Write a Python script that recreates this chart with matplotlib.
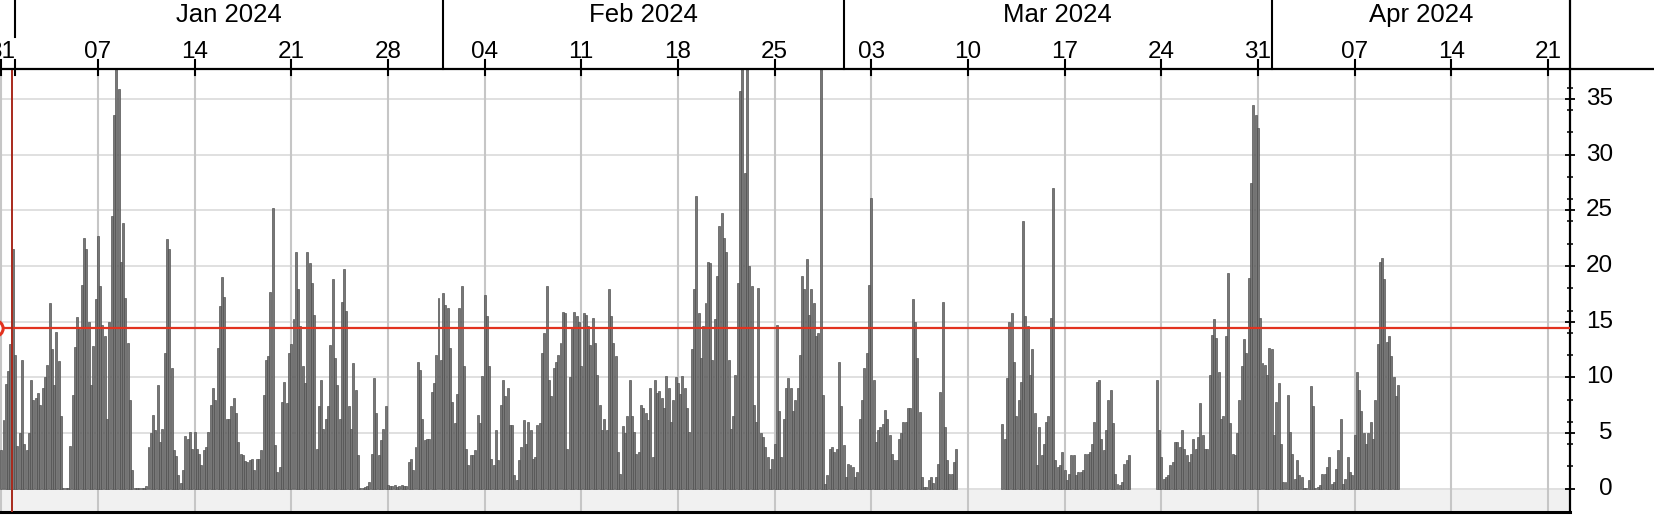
import numpy as np
import matplotlib
matplotlib.use("Agg")
import matplotlib.pyplot as plt
import matplotlib.dates as mdates
from matplotlib.lines import Line2D
import matplotlib.transforms as mtransforms

nan = float("nan")

# ---------------- data (4-hourly values, one list per week starting Sunday) ----
series_start = "2023-12-31T00:00"
step_hours = 4

w00 = [3.5, 6.2, 9.4, 10.6, 13, 21.5, 12, 3.8, 5, 11.6, 4, 3.5, 5, 9.8, 8, 8.1, 8.6, 7.5,
       9, 10, 11.1, 16.7, 12.5, 9.3, 14.1, 11.5, 6.5, 0.1, 0.1, 0.1, 3.8, 8.4, 12.7, 15.4, 14.3,
       18.3, 22.5, 21.5, 15, 9.3, 12.8, 17]
w01 = [22.7, 18.2, 14.7, 13.7, 6.3, 15, 24.5, 33.6, 37.7, 35.9, 20.4, 23.9, 17.1, 13.1, 8, 1.65,
       0.1, 0.1, 0.1, 0.1, 0.1, 0.2, 3.75, 5, 6.6, 5.3, 9.3, 4.2, 5.4, 12.2, 22.4, 21.5, 10.8, 3.5,
       2.9, 1.2, 0.5, 1.7, 4.7, 4.5, 5.1, 3.6]
w02 = [5.1, 3.6, 3.15, 2.1, 3.45, 3.75, 5.1, 7.5, 9, 8, 12.6, 16.4, 19, 17.2, 6.3, 6.3, 7.4, 8.1,
       6.8, 4.2, 3.15, 3, 2.5, 2.4, 2.55, 2.7, 1.65, 2.7, 2.7, 3.5, 8.4, 11.6, 11.9, 17.7, 25.2,
       3.9, 1.5, 1.95, 7.8, 9.6, 7.7, 12.2]
w03 = [13, 15.2, 21.3, 17.9, 14.6, 11, 9.5, 21.3, 20.3, 18.5, 15.6, 3.6, 7.4, 9.8, 5.4, 6.3, 7.4,
       12.9, 18.8, 11.7, 9.3, 6.3, 16.8, 19.7, 16, 7.4, 5.4, 11.3, 8.9, 3, 0.1, 0.1, 0.15, 0.2,
       0.6, 3.15, 9.9, 6.8, 3, 4.35, 5.4, 7.4]
w04 = [0.3, 0.2, 0.2, 0.3, 0.15, 0.2, 0.3, 0.2, 0.2, 2.4, 2.7, 1.65, 3.75, 11.4, 10.7, 6.3, 4.35,
       4.5, 4.5, 8.7, 9.5, 12, 17.1, 11.6, 17.6, 16.5, 16.2, 12.6, 7.8, 5.9, 8.5, 16.2, 18.2, 11,
       3.6, 2.1, 3, 3, 3.45, 6.6, 5.9, 10.1]
w05 = [17.4, 15.5, 11, 2.7, 2.1, 5.3, 2.55, 7.5, 9.8, 8.3, 9, 5.7, 5.7, 1.2, 0.75, 2.55, 3.75,
       6.2, 4, 6, 5.3, 2.7, 2.85, 5.7, 5.9, 12.2, 14, 18.2, 9.8, 8.3, 10.8, 11.4, 12, 13.1, 15.9,
       15.8, 3.6, 10, 14.5, 15.9, 15.5, 15]
w06 = [11, 15.8, 15.6, 14.6, 12.9, 15.3, 13.1, 10.2, 7.5, 5.3, 6.3, 5.3, 17.9, 15.5, 13.1, 11.9,
       3.3, 1.35, 5.6, 5, 6.5, 9.8, 6.5, 5.1, 3.15, 3.3, 7.5, 7.2, 6.8, 6.2, 9, 2.85, 9.8, 8.6, 8.8,
       8.1, 7.2, 10.1, 9, 6, 8, 10]
w07 = [9.5, 8.5, 10.1, 9, 7.2, 5.1, 12.5, 17.9, 26.3, 15.8, 11.7, 14.6, 16.7, 20.4, 20.3, 11.6,
       15.2, 19.1, 23.6, 24.8, 22.5, 21.3, 11.6, 5.4, 6.5, 10.2, 18.5, 35.7, 37.7, 28.4, 37.7, 20,
       18.2, 7.5, 6, 18, 5, 4.65, 3.75, 2.85, 1.8, 2.7]
w08 = [4.05, 14.7, 7, 2.85, 6.3, 9, 9.9, 9, 7, 8, 9, 12, 19.1, 17.9, 20.6, 15.6, 17.9, 16.7, 13.7,
       14, 37.7, 8.4, 0.45, 1.2, 3.6, 3.75, 3.3, 3.6, 11.4, 7.4, 3.9, 1.05, 2.25, 2.1, 1.95, 1.05,
       1.5, 6.3, 8, 10.8, 12.2, 18.3]
w09 = [26.1, 9.8, 4.2, 5.3, 5.55, 5.85, 7.05, 6.3, 4.8, 3.15, 2.55, 2.55, 4.5, 5, 6, 6, 7.2, 7.2,
       17, 15, 11.7, 6.9, 1.05, 0.15, 0.15, 0.75, 1.05, 0.5, 1, 2.25, 8.7, 16.8, 5.55, 2.55, 1.35,
       1.35, 2.4, 3.6, nan, nan, nan, nan]
w10 = [nan] * 15 + [5.85, 4.5, 9.9, 15, 15.8, 11.4, 6.5, 8, 9.6, 24, 15.5, 14.6, 10.2, 12.5, 6.8,
                    2.1, 5.55, 3, 4, 6, 6.5, 15.3, 27, 2.55, 1.95, 2.1, 3.3]
w11 = [1.65, 0.75, 1.35, 3, 3, 1.2, 1.5, 1.5, 1.65, 3.15, 3.15, 3.3, 4, 6, 9.6, 9.8, 4.5, 3.45,
       5.25, 8, 8.9, 5.9, 1.35, 0.45, 0.3, 0.6, 2.25, 2.55, 3] + [nan] * 11 + [9.8, 5.25]
w12 = [2.85, 0.9, 1.05, 1.2, 2.1, 2.4, 4.2, 4.2, 3.75, 5.25, 3.6, 3, 2.4, 3.15, 4.5, 3.6, 4.65,
       7.65, 4.8, 3.6, 3.6, 10.2, 13.8, 15.2, 13.5, 10.5, 6.3, 6.5, 13.7, 19.4, 5.9, 3.15, 3, 5, 8,
       11, 13.4, 12.2, 18.9, 27.5, 34.5, 33.6]
w13 = [32.4, 15.3, 11.3, 11.1, 10.2, 12.6, 12.5, 4.8, 7.8, 9.5, 4.05, 0.6, 0.6, 8.4, 5.1, 3.15,
       0.9, 2.55, 1.2, 1.05, 0.1, 0.1, 0.75, 9.2, 7.4, 0.1, 0.15, 0.3, 1.35, 1.35, 1.95, 2.85, 0.45,
       0.6, 1.8, 3.45, 6.3, 0.45, 0.9, 2.85, 1.5, 1.2]
w14 = [4.8, 10.5, 8.9, 7, 5, 4, 5, 6, 4.5, 8, 13, 20.4, 20.7, 18.8, 13.2, 13.7, 11.9, 10, 8.3, 9.3]

weeks = [w00, w01, w02, w03, w04, w05, w06, w07, w08, w09, w10, w11, w12, w13, w14]

threshold = 14.45
cursor_time = "2023-12-31T18:47"

y_ticks = [0, 5, 10, 15, 20, 25, 30, 35]
month_starts = ["2024-01-01", "2024-02-01", "2024-03-01", "2024-04-01"]
month_labels = ["Jan 2024", "Feb 2024", "Mar 2024", "Apr 2024"]
week_ticks = ["2023-12-31", "2024-01-07", "2024-01-14", "2024-01-21", "2024-01-28",
              "2024-02-04", "2024-02-11", "2024-02-18", "2024-02-25", "2024-03-03",
              "2024-03-10", "2024-03-17", "2024-03-24", "2024-03-31", "2024-04-07",
              "2024-04-14", "2024-04-21"]
x_range = ("2023-12-30T21:55", "2024-04-22T14:25")
y_range = (-2.1, 37.7)

# ---------------- figure ---------------------------------------------------------
plt.rcParams["font.family"] = ["Liberation Sans", "DejaVu Sans"]
W, H = 1654, 516
fig = plt.figure(figsize=(W / 100, H / 100), dpi=100)
AX_RIGHT = 1570
AX_TOP = 69
AX_BOT = 512
ax = fig.add_axes([0, (H - AX_BOT) / H, AX_RIGHT / W, (AX_BOT - AX_TOP) / H])
hax = fig.add_axes([0, (H - AX_TOP) / H, AX_RIGHT / W, AX_TOP / H])
FS = 17.5
FS_MONTH = 18.5

def dn(s):
    return mdates.date2num(np.datetime64(s))

values = np.concatenate([np.array(w, dtype=float) for w in weeks])
t0 = np.datetime64(series_start)
times = t0 + np.arange(len(values)) * np.timedelta64(step_hours, "h")
tnum = mdates.date2num(times)
mask = ~np.isnan(values)

xl = (dn(x_range[0]), dn(x_range[1]))
for a in (ax, hax):
    a.set_xlim(*xl)
ax.set_ylim(*y_range)
hax.set_ylim(0, AX_TOP)
hax.axis("off")

# background band below zero
ax.axhspan(y_range[0], -0.12, color="#f1f1f1", zorder=0, lw=0)

# grid
for v in y_ticks:
    ax.axhline(v, color="#dadada", lw=1.2, zorder=1)
for s in week_ticks:
    ax.axvline(dn(s), color="#c6c6c6", lw=1.5, zorder=1)

# bars
ax.bar(tnum[mask], values[mask], width=step_hours / 24 * 0.86, align="center",
       color="#777777", edgecolor="#4a4a4a", linewidth=0.45, zorder=2)

# red threshold & cursor
ax.axhline(threshold, color="#e2321f", lw=1.6, zorder=4)
ax.axvline(dn(cursor_time), color="#a8291c", lw=1.4, zorder=4)
ax.plot([xl[0] - 0.33], [threshold], "o", ms=11, mfc="white", mec="#e2321f", mew=2.2,
        clip_on=False, zorder=5)

# spines / y axis on the right
for side in ("top", "left"):
    ax.spines[side].set_visible(False)
ax.spines["bottom"].set_linewidth(2.2)
ax.spines["right"].set_linewidth(1.6)
ax.xaxis.set_visible(False)
ax.yaxis.tick_right()
ax.set_yticks(y_ticks)
ax.set_yticks(np.arange(0, 37, 2), minor=True)
ax.tick_params(axis="y", which="major", direction="inout", length=7, width=1.3,
               labelright=False, colors="black")
ax.tick_params(axis="y", which="minor", direction="inout", length=5, width=1.1, colors="black")
lab_tr = mtransforms.blended_transform_factory(fig.transFigure, ax.transData)
for v in y_ticks:
    ax.text(1613 / W, v, str(v), transform=lab_tr, ha="right", va="center",
            fontsize=FS, clip_on=False)

# header: top axis line, right border, month boxes, week ticks
fig.add_artist(Line2D([0, 1], [(H - AX_TOP) / H] * 2, color="black", lw=1.6))
fig.add_artist(Line2D([AX_RIGHT / W] * 2, [(H - AX_TOP) / H, 1], color="black", lw=1.6))

for i, s in enumerate(month_starts):
    x = dn(s)
    if i == 0:
        hax.plot([x, x], [32, AX_TOP], color="black", lw=1.5, clip_on=False)
        hax.plot([x, x], [-6, 9], color="black", lw=1.5, clip_on=False)
    else:
        hax.plot([x, x], [0, AX_TOP], color="black", lw=1.5, clip_on=False)
    x_end = dn(month_starts[i + 1]) if i + 1 < len(month_starts) else xl[1]
    hax.text((x + x_end) / 2, 54, month_labels[i], ha="center", va="center", fontsize=FS_MONTH)

for s in week_ticks:
    x = dn(s)
    hax.plot([x, x], [-6, 9], color="black", lw=1.5, clip_on=False, zorder=6)
    hax.text(x, 17, s[-2:], ha="center", va="center", fontsize=FS, clip_on=False)

fig.savefig("out.png", dpi=100)
